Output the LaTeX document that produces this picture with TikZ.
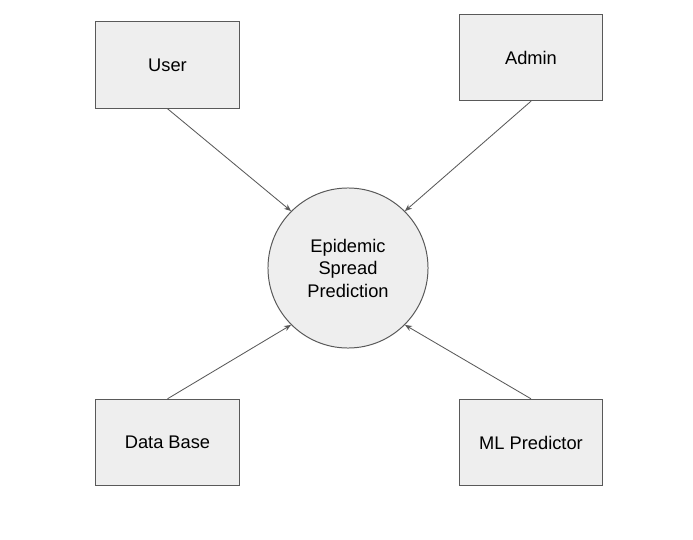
\documentclass[tikz,border=0pt]{standalone}
\usepackage{fontspec}
\setmainfont{Liberation Sans}
\usetikzlibrary{arrows.meta}
\definecolor{boxfill}{HTML}{EEEEEE}
\definecolor{edge}{HTML}{595959}
\tikzset{
    actor/.style={draw=edge, fill=boxfill, line width=0.7pt, minimum width=3.575cm, minimum height=2.16cm, font=\fontsize{13}{15}\selectfont},
    process/.style={draw=edge, fill=boxfill, line width=0.7pt, circle, minimum size=4cm, align=center, font=\fontsize{13}{16}\selectfont},
    flow/.style={draw=edge, line width=0.6pt, -{Stealth[length=5pt, width=4pt]}}
}
\begin{document}
\begin{tikzpicture}[x=0.025cm, y=-0.025cm]
            \useasboundingbox (0, 0) rectangle (693, 540);
            \node[process] (epi) at (348, 268) {Epidemic\\Spread\\Prediction};
            \node[actor] (user) at (167.5, 65) {User};
            \node[actor] (admin) at (531, 57.5) {Admin};
            \node[actor] (db) at (167.5, 442.5) {Data Base};
            \node[actor] (ml) at (531, 442.5) {ML Predictor};
            \draw[flow] (user.south) -- (epi.north west);
            \draw[flow] (admin.south) -- (epi.north east);
            \draw[flow] (db.north) -- (epi.south west);
            \draw[flow] (ml.north) -- (epi.south east);
        \end{tikzpicture}
\end{document}
